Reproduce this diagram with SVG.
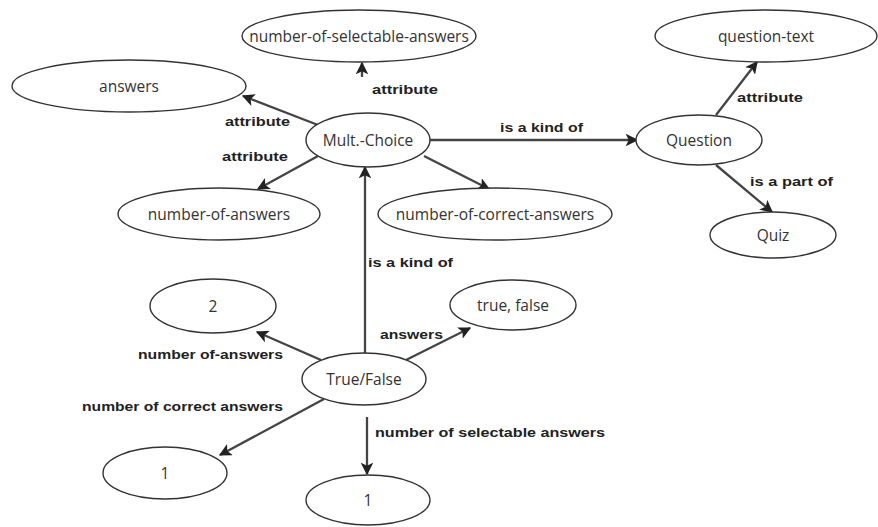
<svg xmlns="http://www.w3.org/2000/svg" width="878" height="527" viewBox="0 0 878 527">
<defs>
<style>
.node ellipse{fill:#fff;stroke:#333;stroke-width:1.4}
.node text{font-family:"Open Sans","Liberation Sans",sans-serif;font-size:15.5px;fill:#333;text-anchor:middle;dominant-baseline:central}
.edges line{stroke:#444;stroke-width:2.3;marker-end:url(#ah)}
.lbl{font-family:"Liberation Sans",sans-serif;font-size:12px;font-weight:bold;fill:#222;dominant-baseline:central}
</style>
<marker id="ah" viewBox="0 0 10 10" refX="9" refY="5" markerWidth="5.5" markerHeight="5.5" orient="auto" markerUnits="strokeWidth">
<path d="M0,0 L10,5 L0,10 L2.5,5 z" fill="#222"/>
</marker>
</defs>
<rect width="878" height="527" fill="#fff"/>
<g class="edges">
<line x1="362" y1="77" x2="362" y2="63"/>
<line x1="318" y1="125" x2="243" y2="96"/>
<line x1="318" y1="156" x2="258" y2="189"/>
<line x1="424" y1="156" x2="489" y2="189"/>
<line x1="430" y1="140" x2="637" y2="140"/>
<line x1="716" y1="115" x2="757" y2="62"/>
<line x1="716" y1="165" x2="772" y2="212"/>
<line x1="365" y1="353" x2="365" y2="167"/>
<line x1="321" y1="360" x2="257" y2="332"/>
<line x1="406" y1="360" x2="470" y2="328"/>
<line x1="324" y1="399" x2="220" y2="455"/>
<line x1="367" y1="417" x2="367" y2="474"/>
</g>
<g class="labels">
<text class="lbl" x="372" y="90" textLength="66" lengthAdjust="spacingAndGlyphs">attribute</text>
<text class="lbl" x="225" y="122" textLength="65" lengthAdjust="spacingAndGlyphs">attribute</text>
<text class="lbl" x="222" y="157" textLength="66" lengthAdjust="spacingAndGlyphs">attribute</text>
<text class="lbl" x="500" y="128" textLength="83" lengthAdjust="spacingAndGlyphs">is a kind of</text>
<text class="lbl" x="737" y="98" textLength="66" lengthAdjust="spacingAndGlyphs">attribute</text>
<text class="lbl" x="750" y="182" textLength="83" lengthAdjust="spacingAndGlyphs">is a part of</text>
<text class="lbl" x="368" y="263" textLength="85" lengthAdjust="spacingAndGlyphs">is a kind of</text>
<text class="lbl" x="138" y="355" textLength="145" lengthAdjust="spacingAndGlyphs">number of-answers</text>
<text class="lbl" x="380" y="335" textLength="63" lengthAdjust="spacingAndGlyphs">answers</text>
<text class="lbl" x="82" y="407" textLength="201" lengthAdjust="spacingAndGlyphs">number of correct answers</text>
<text class="lbl" x="375" y="433" textLength="230" lengthAdjust="spacingAndGlyphs">number of selectable answers</text>
</g>
<g id="n-selectable" class="node"><ellipse cx="359" cy="36" rx="117" ry="26"/><text x="359" y="36">number-of-selectable-answers</text></g>
<g id="n-answers" class="node"><ellipse cx="129" cy="86" rx="117" ry="26"/><text x="129" y="86">answers</text></g>
<g id="n-mult" class="node"><ellipse cx="368" cy="140" rx="62" ry="27"/><text x="368" y="140">Mult.-Choice</text></g>
<g id="n-numanswers" class="node"><ellipse cx="219" cy="214" rx="101" ry="26"/><text x="219" y="214">number-of-answers</text></g>
<g id="n-correct" class="node"><ellipse cx="495" cy="214" rx="117" ry="26"/><text x="495" y="214">number-of-correct-answers</text></g>
<g id="n-question" class="node"><ellipse cx="699" cy="140" rx="63" ry="25"/><text x="699" y="140">Question</text></g>
<g id="n-qtext" class="node"><ellipse cx="766" cy="36" rx="111" ry="26"/><text x="766" y="36">question-text</text></g>
<g id="n-quiz" class="node"><ellipse cx="773" cy="235" rx="63" ry="23"/><text x="773" y="235">Quiz</text></g>
<g id="n-two" class="node"><ellipse cx="213" cy="306" rx="63" ry="27"/><text x="213" y="306">2</text></g>
<g id="n-truefalse" class="node"><ellipse cx="513" cy="305" rx="63" ry="25"/><text x="513" y="305">true, false</text></g>
<g id="n-tf" class="node"><ellipse cx="364" cy="379" rx="62" ry="26"/><text x="364" y="379">True/False</text></g>
<g id="n-one-a" class="node"><ellipse cx="165" cy="473" rx="62" ry="26"/><text x="165" y="473">1</text></g>
<g id="n-one-b" class="node"><ellipse cx="368" cy="500" rx="62" ry="25"/><text x="368" y="500">1</text></g>
</svg>
